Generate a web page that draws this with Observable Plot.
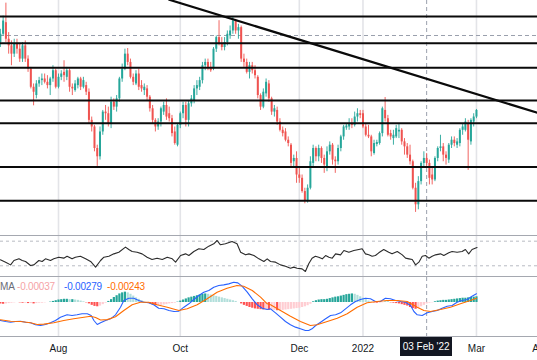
<!DOCTYPE html>
<html><head><meta charset="utf-8">
<script src="https://cdn.jsdelivr.net/npm/d3@7"></script>
<script src="https://cdn.jsdelivr.net/npm/@observablehq/plot@0.6"></script>
<style>
html,body{margin:0;padding:0;background:#fff;}
#chart{position:relative;width:537px;height:360px;overflow:hidden;font-family:"Liberation Sans",Arial,sans-serif;}
#chart svg{display:block;}
.sep{height:1px;background:#a5a8b0;}
.lg{position:absolute;top:281px;font-size:10px;letter-spacing:-0.2px;line-height:12px;white-space:nowrap;}
#xlab{position:absolute;top:337px;height:19px;background:#131722;color:#fff;font-size:10px;line-height:19px;text-align:center;}
</style></head><body><div id="chart"></div>
<script>
// Daily candles (AUD/USD style), bar index 0 = 1 Jul 2021 ... 173 = 1 Mar 2022
const open=[.7500,.7480,.7505,.7540,.7490,.7470,.7445,.7475,.7460,.7430,
.7470,.7430,.7400,.7345,.7320,.7355,.7365,.7370,.7360,.7350,
.7370,.7395,.7345,.7375,.7390,.7375,.7395,.7345,.7335,.7350,
.7370,.7345,.7350,.7330,.7245,.7225,.7160,.7135,.7210,.7270,
.7265,.7235,.7300,.7285,.7310,.7370,.7400,.7445,.7420,.7375,
.7355,.7385,.7350,.7335,.7340,.7315,.7280,.7245,.7225,.7240,
.7270,.7290,.7265,.7250,.7210,.7170,.7230,.7265,.7290,.7245,
.7295,.7305,.7340,.7345,.7365,.7410,.7420,.7405,.7400,.7460,
.7495,.7475,.7465,.7480,.7500,.7515,.7545,.7515,.7525,.7430,
.7420,.7390,.7410,.7395,.7375,.7320,.7285,.7325,.7355,.7310,
.7270,.7275,.7240,.7215,.7210,.7185,.7170,.7120,.7130,.7080,
.7070,.7030,.7000,.7040,.7115,.7160,.7135,.7160,.7130,.7105,
.7150,.7170,.7125,.7120,.7160,.7195,.7222,.7225,.7235,.7230,
.7255,.7265,.7265,.7225,.7200,.7195,.7145,.7172,.7175,.7205,
.7275,.7250,.7205,.7190,.7195,.7210,.7215,.7180,.7165,.7140,
.7120,.7040,.6990,.7060,.7115,.7130,.7115,.7080,.7065,.7130,
.7160,.7165,.7140,.7125,.7170,.7185,.7170,.7175,.7215,.7215,
.7235,.7180,.7240,.7255];
const high=[.7520,.7520,.7560,.7599,.7510,.7485,.7490,.7490,.7475,.7480,
.7485,.7440,.7405,.7355,.7365,.7375,.7385,.7385,.7380,.7375,
.7410,.7400,.7385,.7395,.7425,.7405,.7400,.7355,.7365,.7375,
.7375,.7375,.7360,.7340,.7255,.7230,.7170,.7225,.7275,.7290,
.7285,.7315,.7310,.7320,.7375,.7415,.7460,.7462,.7430,.7385,
.7395,.7400,.7365,.7355,.7350,.7320,.7290,.7250,.7250,.7285,
.7300,.7310,.7285,.7260,.7225,.7235,.7270,.7300,.7300,.7305,
.7320,.7350,.7365,.7375,.7420,.7430,.7430,.7420,.7465,.7500,
.7546,.7495,.7495,.7515,.7530,.7556,.7550,.7535,.7530,.7445,
.7430,.7420,.7420,.7410,.7380,.7325,.7340,.7370,.7365,.7315,
.7290,.7285,.7250,.7225,.7220,.7195,.7175,.7140,.7150,.7100,
.7080,.7040,.7050,.7135,.7170,.7165,.7170,.7165,.7140,.7165,
.7180,.7175,.7135,.7170,.7200,.7230,.7235,.7250,.7250,.7270,
.7280,.7275,.7275,.7235,.7230,.7200,.7185,.7185,.7210,.7285,
.7314,.7260,.7215,.7215,.7230,.7235,.7220,.7190,.7175,.7170,
.7125,.7055,.7075,.7120,.7150,.7145,.7125,.7100,.7135,.7165,
.7200,.7175,.7150,.7175,.7195,.7195,.7190,.7220,.7235,.7250,
.7245,.7250,.7265,.7278];
const low=[.7475,.7465,.7500,.7480,.7445,.7410,.7435,.7445,.7420,.7420,
.7420,.7390,.7340,.7289,.7310,.7345,.7350,.7355,.7340,.7320,
.7360,.7340,.7340,.7365,.7360,.7365,.7330,.7320,.7330,.7340,
.7335,.7340,.7320,.7235,.7210,.7150,.7106,.7125,.7200,.7245,
.7225,.7220,.7275,.7270,.7300,.7360,.7395,.7410,.7370,.7350,
.7350,.7335,.7330,.7320,.7305,.7270,.7235,.7210,.7215,.7225,
.7260,.7245,.7240,.7195,.7170,.7165,.7220,.7250,.7225,.7225,
.7285,.7295,.7320,.7335,.7355,.7395,.7395,.7390,.7395,.7450,
.7470,.7455,.7455,.7470,.7490,.7505,.7505,.7490,.7420,.7405,
.7385,.7370,.7385,.7370,.7310,.7275,.7280,.7315,.7300,.7260,
.7255,.7230,.7210,.7195,.7180,.7165,.7105,.7105,.7055,.7055,
.7025,.6993,.6995,.7035,.7105,.7120,.7120,.7115,.7085,.7090,
.7140,.7110,.7085,.7110,.7150,.7185,.7215,.7215,.7220,.7225,
.7240,.7250,.7220,.7195,.7190,.7135,.7140,.7165,.7170,.7195,
.7240,.7195,.7185,.7170,.7190,.7190,.7170,.7140,.7130,.7110,
.7035,.6967,.6975,.7050,.7105,.7100,.7050,.7050,.7060,.7120,
.7150,.7120,.7110,.7115,.7160,.7165,.7160,.7165,.7200,.7210,
.7094,.7170,.7225,.7250];
const close=[.7495,.7505,.7545,.7490,.7470,.7445,.7475,.7460,.7430,.7470,
.7430,.7400,.7345,.7330,.7355,.7365,.7370,.7360,.7350,.7370,
.7395,.7345,.7375,.7385,.7380,.7395,.7345,.7340,.7355,.7370,
.7345,.7365,.7330,.7245,.7225,.7160,.7135,.7210,.7270,.7265,
.7235,.7300,.7285,.7310,.7370,.7400,.7445,.7420,.7375,.7360,
.7385,.7345,.7340,.7345,.7315,.7280,.7245,.7225,.7240,.7280,
.7290,.7255,.7250,.7205,.7175,.7230,.7265,.7290,.7245,.7295,
.7310,.7340,.7350,.7365,.7410,.7420,.7405,.7395,.7460,.7495,
.7475,.7465,.7480,.7505,.7515,.7545,.7515,.7525,.7430,.7420,
.7390,.7410,.7395,.7380,.7320,.7285,.7330,.7360,.7310,.7270,
.7280,.7240,.7215,.7205,.7185,.7175,.7115,.7130,.7080,.7070,
.7030,.7000,.7040,.7120,.7160,.7135,.7160,.7130,.7110,.7150,
.7170,.7125,.7120,.7160,.7195,.7225,.7228,.7235,.7230,.7255,
.7265,.7260,.7225,.7200,.7195,.7150,.7175,.7178,.7205,.7280,
.7250,.7200,.7195,.7200,.7220,.7215,.7180,.7165,.7140,.7120,
.7040,.6990,.7060,.7115,.7130,.7115,.7070,.7065,.7130,.7160,
.7165,.7140,.7130,.7170,.7185,.7175,.7180,.7215,.7225,.7240,
.7185,.7245,.7255,.7275];

// Horizontal support / resistance levels and the descending trendline
const levels=[0.7559,0.7478,0.7404,0.7305,0.7236,0.7104,0.7002];
const trendIdx=[62,196];
const trendPrice=[0.76093,0.72654];

// Crosshair (03 Feb '22) and its price
const crossIdx=155;
const crossPrice=0.75013;
const crossLabel="03 Feb '22";

// Time axis: bar index of month starts
const tickIdx=[22,66,109,132,173,196];
const tickLabels=["Aug","Oct","Dec","2022","Mar","Apr"];

// Oscillator (RSI-like) trace
const rsiIdx=[1.0,2.9,4.7,5.9,7.7,8.9,10.1,11.9,13.1,14.9,16.1,17.3,19.1,20.3,22.1,23.9,25.1,26.9,28.1,29.9,31.8,33.6,35.4,37.2,38.4,40.2,42.0,43.8,46.2,47.4,48.6,50.4,52.2,54.0,55.8,57.6,59.5,61.3,63.1,64.3,66.1,67.9,69.1,70.9,72.7,74.5,76.3,78.1,79.3,80.5,82.3,84.7,86.5,87.8,89.6,90.8,92.6,94.4,96.2,97.4,
98.6,100.4,102.2,104.0,105.8,107.0,108.2,110.0,111.2,112.4,113.6,114.8,116.0,117.3,118.5,119.7,120.9,122.1,123.9,125.1,126.9,128.7,130.5,131.7,132.9,134.1,135.3,136.5,137.7,139.5,141.3,142.5,144.4,146.2,147.4,148.6,149.8,151.0,152.2,153.4,154.6,155.8,157.0,158.2,160.0,161.2,163.0,164.2,166.0,167.8,169.0,170.2,171.4,173.2];
const rsiVal=[39.7,35.9,31.5,38.6,41.3,38.6,37.0,30.5,31.5,38.6,37.0,41.3,38.6,41.3,44.0,42.4,45.6,41.3,44.0,45.6,41.3,37.0,27.8,38.6,44.0,45.6,49.4,52.1,60.3,56.5,53.2,52.1,49.4,44.0,40.2,42.4,40.2,44.0,41.3,35.9,46.7,49.4,46.7,53.2,57.6,56.5,61.9,65.7,71.1,64.1,65.7,69.5,65.7,52.1,47.8,49.4,46.7,41.3,37.0,41.3,
37.0,35.9,31.5,29.4,26.1,27.8,26.1,25.0,20.7,33.2,42.4,45.6,44.0,41.3,46.7,44.0,42.4,49.4,47.8,54.8,52.1,54.8,56.5,57.6,49.4,47.8,45.6,46.7,51.1,56.5,52.1,49.4,53.2,47.8,42.4,41.3,40.2,31.5,35.9,45.6,46.7,42.4,45.6,47.8,49.4,46.7,51.1,53.2,52.1,53.2,56.5,49.4,56.5,59.8];
const rsiLevels=[70,30];

// MACD line, signal line, histogram
const macdIdx=[1.0,2.9,4.7,6.5,8.3,10.1,11.9,13.7,15.5,17.3,19.1,20.9,22.7,25.1,26.9,28.7,30.5,32.4,33.8,34.8,36.0,37.2,39.0,40.8,42.6,44.4,45.6,47.4,49.2,51.0,52.8,54.6,56.4,58.2,60.1,61.9,63.7,65.5,67.3,69.1,70.9,72.7,74.5,76.3,78.1,79.9,81.7,83.5,85.3,86.8,88.3,90.2,92.0,93.8,95.6,97.4,
98.6,100.4,102.2,104.0,105.8,107.6,109.4,111.2,112.4,113.6,114.9,116.7,118.5,120.3,122.1,123.9,125.7,127.5,129.3,131.1,132.9,134.7,136.5,138.3,140.1,141.9,143.8,145.6,147.4,149.2,150.4,151.6,153.4,155.2,157.0,158.8,160.6,162.4,164.2,166.0,167.8,169.6,171.4,173.0];
const macdVal=[-0.00504,-0.00532,-0.00551,-0.00532,-0.00523,-0.00551,-0.00569,-0.00625,-0.00644,-0.00616,-0.00569,-0.00504,-0.00411,-0.00345,-0.00364,-0.00345,-0.00317,-0.00317,-0.00364,-0.00504,-0.00616,-0.00569,-0.00504,-0.00457,-0.00345,-0.00131,0.00056,0.00121,0.00121,0.00056,0.00009,-0.00009,-0.00065,-0.00159,-0.00177,-0.00224,-0.00252,-0.00243,-0.00131,-0.00037,0.00084,0.00196,0.00289,0.00336,0.00429,0.00476,0.00494,0.00522,0.00569,0.00550,0.00457,0.00289,0.00103,-0.00065,-0.00159,-0.00196,
-0.00177,-0.00289,-0.00411,-0.00532,-0.00625,-0.00690,-0.00737,-0.00784,-0.00784,-0.00737,-0.00644,-0.00551,-0.00457,-0.00364,-0.00345,-0.00289,-0.00177,-0.00065,0.00028,0.00084,0.00121,0.00103,0.00028,0.00028,0.00121,0.00103,0.00056,0.00028,0.00009,-0.00084,-0.00252,-0.00345,-0.00364,-0.00289,-0.00252,-0.00224,-0.00159,-0.00103,-0.00084,0.00009,0.00056,0.00084,0.00177,0.00243];
const sigIdx=[1.0,4.7,8.3,11.9,14.3,16.7,20.3,23.9,27.5,31.2,33.6,35.4,37.2,39.6,42.6,45.6,48.6,51.6,54.6,57.6,61.3,65.5,68.5,72.1,75.7,79.3,82.9,86.5,88.9,92.0,95.0,97.4,
98.6,102.2,105.8,109.4,113.0,115.4,119.1,122.7,126.3,129.9,133.5,137.1,140.7,144.4,148.0,151.6,154.0,156.4,160.0,163.6,167.2,170.8,173.0];
const sigVal=[-0.00485,-0.00523,-0.00532,-0.00569,-0.00616,-0.00606,-0.00569,-0.00504,-0.00457,-0.00411,-0.00383,-0.00420,-0.00490,-0.00480,-0.00400,-0.00224,-0.00065,0.00009,0.00009,-0.00065,-0.00131,-0.00224,-0.00177,-0.00065,0.00103,0.00289,0.00401,0.00476,0.00457,0.00336,0.00149,-0.00037,
-0.00065,-0.00224,-0.00383,-0.00532,-0.00644,-0.00625,-0.00532,-0.00439,-0.00317,-0.00131,-0.00009,0.00028,0.00056,0.00056,0.00028,-0.00131,-0.00224,-0.00252,-0.00196,-0.00131,-0.00037,0.00056,0.00121];
const hist=[-0.0003,-0.0004,-0.0005,-0.0004,-0.0003,-0.0002,-0.0001,0.0000,-0.0001,-0.0002,
-0.0002,-0.0003,-0.0003,-0.0004,-0.0003,-0.0002,-0.0002,-0.0001,0.0000,0.0001,
0.0003,0.0005,0.0007,0.0008,0.0009,0.0009,0.0008,0.0008,0.0007,0.0006,
0.0004,0.0002,-0.0001,-0.0004,-0.0008,-0.0011,-0.0012,-0.0010,-0.0006,-0.0002,
0.0003,0.0008,0.0014,0.0019,0.0024,0.0027,0.0029,0.0027,0.0023,0.0018,
0.0013,0.0009,0.0005,0.0002,-0.0001,-0.0004,-0.0007,-0.0009,-0.0009,-0.0008,
-0.0007,-0.0006,-0.0004,-0.0003,-0.0002,0.0001,0.0004,0.0007,0.0010,0.0013,
0.0015,0.0017,0.0019,0.0021,0.0023,0.0024,0.0023,0.0021,0.0019,0.0017,
0.0015,0.0013,0.0011,0.0009,0.0007,0.0005,0.0003,0.0000,-0.0004,-0.0008,
-0.0011,-0.0014,-0.0016,-0.0018,-0.0019,-0.0020,-0.0021,-0.0021,-0.0022,-0.0022,
-0.0022,-0.0023,-0.0023,-0.0022,-0.0021,-0.0020,-0.0019,-0.0018,-0.0017,-0.0016,
-0.0014,-0.0012,-0.0009,-0.0005,0.0002,0.0005,0.0007,0.0008,0.0008,0.0009,
0.0011,0.0013,0.0015,0.0016,0.0018,0.0020,0.0022,0.0023,0.0024,0.0023,
0.0020,0.0016,0.0012,0.0008,0.0004,0.0001,-0.0001,-0.0002,-0.0002,-0.0001,
0.0001,0.0001,-0.0001,-0.0002,-0.0003,-0.0004,-0.0006,-0.0008,-0.0010,-0.0014,
-0.0017,-0.0019,-0.0016,-0.0012,-0.0008,-0.0004,-0.0002,-0.0001,0.0002,0.0004,
0.0005,0.0006,0.0006,0.0007,0.0008,0.0009,0.0010,0.0011,0.0012,0.0012,
0.0013,0.0014,0.0015,0.0016];
const legendVals=["-0.00037","-0.00279","-0.00243"];

// ---------- build ----------
const W=537;
const xDomain=[1.048,195.05];
const UP="#26a69a", DOWN="#ef5350";
const GRID="#e3e4e8", CROSS="#9aa0ad";
const bars=d3.range(open.length).map(i=>({i,o:open[i],h:high[i],l:low[i],c:close[i],col:close[i]>=open[i]?UP:DOWN}));
const trend=trendIdx.map((x,k)=>({x,y:trendPrice[k]}));
const rsi=rsiIdx.map((x,k)=>({x,y:rsiVal[k]}));
const macd=macdIdx.map((x,k)=>({x,y:macdVal[k]}));
const sig=sigIdx.map((x,k)=>({x,y:sigVal[k]}));
const hb=hist.map((v,i)=>{const p=i>0?hist[i-1]:v;let col;
  if(v>=0) col=v>=p?"#26a69a":"#b2dfdb"; else col=v<p?"#ff5252":"#ffcdd2";
  return {i,v,col};});

const grid=()=>Plot.ruleX(tickIdx,{stroke:GRID,strokeWidth:1.6});
const crossV=()=>Plot.ruleX([crossIdx],{stroke:CROSS,strokeWidth:1,strokeDasharray:"4,3"});

const main=Plot.plot({width:W,height:235,margin:0,
  x:{domain:xDomain,axis:null},y:{domain:[0.68973,0.7607],axis:null},color:{type:"identity"},
  marks:[
    grid(),crossV(),
    Plot.ruleY([crossPrice],{stroke:CROSS,strokeWidth:1,strokeDasharray:"4,3"}),
    Plot.ruleX(bars,{x:"i",y1:"l",y2:"h",stroke:"col",strokeWidth:0.9}),
    Plot.ruleX(bars,{x:"i",y1:"o",y2:"c",stroke:"col",strokeWidth:2}),
    Plot.ruleY(levels,{stroke:"#0a0a0a",strokeWidth:2}),
    Plot.line(trend,{x:"x",y:"y",stroke:"#0a0a0a",strokeWidth:2.2,clip:true})
  ]});

const rsiPlot=Plot.plot({width:W,height:40,margin:0,
  x:{domain:xDomain,axis:null},y:{domain:[12.6,77.6],axis:null},
  marks:[grid(),
    Plot.ruleY(rsiLevels,{stroke:"#b8bbc3",strokeWidth:1,strokeDasharray:"3,3"}),
    crossV(),
    Plot.line(rsi,{x:"x",y:"y",stroke:"#2b2b2b",strokeWidth:1.1,clip:true})
  ]});

const macdPlot=Plot.plot({width:W,height:59,margin:0,
  x:{domain:xDomain,axis:null},y:{domain:[-0.00952,0.0070],axis:null},color:{type:"identity"},
  marks:[grid(),crossV(),
    Plot.ruleX(hb,{x:"i",y1:0,y2:"v",stroke:"col",strokeWidth:2.2}),
    Plot.line(macd,{x:"x",y:"y",stroke:"#2962ff",strokeWidth:1.1,clip:true}),
    Plot.line(sig,{x:"x",y:"y",stroke:"#ff6d00",strokeWidth:1.1,clip:true})
  ]});

const axisPlot=Plot.plot({width:W,height:23,margin:0,
  x:{domain:xDomain,axis:null},
  marks:[Plot.text(tickIdx,{x:d=>d,text:(d,k)=>tickLabels[k],frameAnchor:"middle",fontSize:10,fill:"#131722",fontFamily:"Liberation Sans, Arial, sans-serif"})]});

const chart=document.getElementById("chart");
const sep=()=>{const d=document.createElement("div");d.className="sep";return d;};
chart.append(main,sep(),rsiPlot,sep(),macdPlot,sep(),axisPlot);

// MACD legend
const lg=[["MA","#6a6d78",0],[legendVals[0],"#f5a3a6",17],[legendVals[1],"#2962ff",64],[legendVals[2],"#ff6d00",107]];
lg.forEach(([t,c,l])=>{const s=document.createElement("div");s.className="lg";s.textContent=t;s.style.color=c;s.style.left=l+"px";chart.appendChild(s);});

// crosshair time label
const xs=main.scale("x");
const cx=xs.apply(crossIdx);
const lab=document.createElement("div");lab.id="xlab";lab.textContent=crossLabel;
const bw=52;lab.style.width=bw+"px";lab.style.left=(cx-bw/2)+"px";
chart.appendChild(lab);
</script></body></html>
